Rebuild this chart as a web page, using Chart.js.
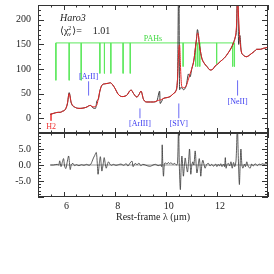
<!DOCTYPE html>
<html>
<head>
<meta charset="utf-8">
<script src="https://cdn.jsdelivr.net/npm/chart.js@4.4.0/dist/chart.umd.min.js"></script>
<style>
body { margin: 0; background: #fff; }
#wrap { position: relative; width: 274px; height: 274px; }
#topChart { position: absolute; left: 0; top: 0; }
#resChart { position: absolute; left: 0; top: 126px; }
</style>
</head>
<body>
<div id="wrap">
  <canvas id="topChart" width="274" height="140"></canvas>
  <canvas id="resChart" width="274" height="100"></canvas>
</div>
<script>
// spectrum (black) and fitted model (red), rest-frame wavelength in micron
const wave = [
  5.48, 5.55, 5.68, 5.8, 5.87, 5.95, 6.07, 6.15, 6.22, 6.3,
  6.46, 6.65, 6.8, 6.92, 6.98, 7.05, 7.15, 7.25, 7.31, 7.36,
  7.42, 7.5, 7.63, 7.75, 7.83, 7.92, 8.02, 8.12, 8.22, 8.32,
  8.41, 8.5, 8.58, 8.65, 8.74, 8.87, 8.95, 9.03, 9.13, 9.26,
  9.4, 9.52, 9.65, 9.76, 9.78, 9.9, 10.05, 10.17, 10.3, 10.4,
  10.46, 10.51, 10.54, 10.58, 10.62, 10.69, 10.8, 10.89, 10.95, 11.02,
  11.1, 11.15, 11.2, 11.24, 11.28, 11.31, 11.36, 11.41, 11.5, 11.61,
  11.74, 11.85, 11.93, 12.03, 12.13, 12.22, 12.32, 12.42, 12.52, 12.6,
  12.67, 12.72, 12.77, 12.81, 12.85, 12.9, 12.95, 13.04, 13.17, 13.27,
  13.37, 13.47, 13.56, 13.7, 13.82, 13.92, 14.0
];
const model = [
  8, 9, 11, 12, 12, 14, 18, 30, 50, 32,
  22, 20, 21, 23, 25, 26, 23, 24, 28, 40,
  55, 67, 70, 71, 72, 68, 60, 50, 45, 44,
  45, 48, 55, 57, 50, 43, 48, 55, 38, 33,
  33, 33, 35, 37, 37, 40, 42, 44, 50, 56,
  80, 140, 149, 100, 66, 62, 66, 80, 90, 101,
  118, 139, 160, 173, 168, 152, 135, 122, 112, 105,
  98, 100, 106, 110, 115, 119, 124, 131, 139, 147,
  156, 165, 190, 240, 205, 160, 137, 128, 125, 128,
  132, 136, 140, 140, 142, 143, 145
];
const flux = [
  8, 9, 11, 12, 12, 14, 18, 29, 52, 31,
  22, 20, 21, 23, 25, 26, 21, 20, 36, 38,
  55, 67, 70, 71, 72, 68, 60, 50, 45, 44,
  45, 48, 55, 57, 50, 43, 48, 55, 38, 33,
  33, 33, 35, 55, 30, 40, 42, 44, 50, 56,
  80, 300, 58, 62, 62, 58, 66, 90, 84, 101,
  118, 139, 160, 180, 168, 152, 135, 122, 112, 105,
  98, 100, 106, 110, 115, 119, 124, 131, 139, 147,
  156, 165, 185, 320, 150, 168, 137, 128, 125, 128,
  132, 136, 140, 140, 142, 143, 145
];

// residuals
const resWave = [
  5.48, 5.6, 5.75, 5.81, 5.85, 5.9, 5.95, 6.0, 6.04, 6.09,
  6.14, 6.2, 6.26, 6.31, 6.37, 6.43, 6.5, 6.6, 6.7, 6.8,
  6.9, 7.0, 7.07, 7.12, 7.17, 7.22, 7.28, 7.32, 7.35, 7.4,
  7.44, 7.47, 7.5, 7.55, 7.59, 7.63, 7.67, 7.72, 7.76, 7.82,
  7.87, 7.95, 8.05, 8.15, 8.25, 8.35, 8.45, 8.52, 8.6, 8.68,
  8.72, 8.8, 8.88, 8.95, 9.02, 9.1, 9.2, 9.3, 9.4, 9.5,
  9.6, 9.7, 9.8, 9.84, 9.86, 9.88, 9.91, 9.95, 10.0, 10.05,
  10.1, 10.15, 10.2, 10.28, 10.35, 10.42, 10.46, 10.5, 10.53, 10.57,
  10.6, 10.63, 10.66, 10.69, 10.73, 10.76, 10.8, 10.85, 10.89, 10.93,
  10.96, 10.98, 11.02, 11.06, 11.1, 11.15, 11.19, 11.22, 11.27, 11.31,
  11.34, 11.37, 11.41, 11.45, 11.5, 11.54, 11.6, 11.67, 11.73, 11.8,
  11.87, 11.95, 12.0, 12.05, 12.1, 12.15, 12.2, 12.26, 12.3, 12.33,
  12.36, 12.4, 12.45, 12.5, 12.55, 12.6, 12.65, 12.7, 12.75, 12.8,
  12.84, 12.88, 12.91, 12.94, 12.98, 13.02, 13.08, 13.12, 13.17, 13.22,
  13.3, 13.36, 13.42, 13.5, 13.58, 13.65, 13.72, 13.78, 13.85, 13.92,
  14.0
];
const resVal = [
  0, 0, 0.2, 0, 1.3, -0.5, 0.8, 2.0, -0.3, -1.1,
  0.8, 2.8, -1.4, 0.2, 0.5, -0.2, 0.1, -0.2, 0.1, -0.1,
  0.2, -0.1, 0.3, 1.2, 2.2, 3.0, 3.9, 0.5, -2.9, 0.5,
  2.6, 0.5, -1.9, 0.3, 2.3, 0.5, -1.0, 0.3, 1.0, 0.2,
  -0.1, 0.2, -0.1, 0.1, 0.3, -0.1, 0.4, -0.3, 0.6, 1.2,
  -0.5, 0.5, 0.1, 0.6, -0.2, 0.2, 0.0, -0.3, -0.4, 0.0,
  0.2, -0.2, 0.0, -0.5, 6.3, 1.0, -3.5, 0.5, 0.6, 0.3,
  0.8, 0.4, 0.7, 0.2, 0.5, 0.0, 0.5, 12, 0, -7.7,
  -1.0, 2.8, 0, -3.5, 0, 2.2, 0, -2.2, 1.0, 5.0,
  0, -2.9, 0, 1.0, 0, 4.4, 0, -2.5, 0, 2.0,
  0, -3.5, 0, 1.5, 0, -1.0, 0.2, 0.5, -0.3, 0.2,
  -0.4, 0.3, -0.5, 0.2, -0.3, 0.4, -0.5, 0.3, -0.5, 2.3,
  -1.0, 0.2, 0.5, -0.3, 1.0, -1.0, 0.8, -0.5, 1.5, 12,
  2.0, -6.1, 0, 5.0, 0, -1.0, 0.3, -0.5, 1.0, -0.3,
  -1.0, 0.3, -0.3, 0.4, -0.2, 0.3, 0.1, 0.4, 0.2, 0.5,
  0.3
];

// PAH features
const pahWave = [5.7, 6.22, 6.69, 7.42, 7.6, 7.85, 8.33, 8.61, 10.68, 11.17, 11.25, 11.33, 11.99, 12.62, 12.69];
const pahFoot = [77, 77, 77, 91, 91, 91, 91, 91, 105, 105, 105, 105, 111, 105, 105];
const pahLevel = 153;

// ionic lines
const ionNames = ['[ArII]', '[ArIII]', '[SIV]', '[NeII]'];
const ionWave = [6.98, 8.99, 10.51, 12.81];
const ionFrom = [46, 0, 0, 46];
const ionTo = [75, 20, 30, 77];
const ionLabelAt = [83, -12, -12, 34];

// H2 line
const h2Wave = 5.51;
const h2Range = [9, -5];

const fluxTicks = [0, 50, 100, 150, 200];
const resTicks = [-5, 0, 5];
const waveTicks = [6, 8, 10, 12];

const galaxy = 'Haro3';
const chi2 = '1.01';

Chart.defaults.font.family = '"Liberation Serif", "DejaVu Serif", serif';
Chart.defaults.color = '#222';

function pts(xs, ys) {
    return xs.map((v, i) => ({x: v, y: ys[i]}));
}

const pahPts = [{x: pahWave[0], y: pahLevel}, {x: pahWave[pahWave.length - 1], y: pahLevel}, {x: pahWave[0], y: null}];
pahWave.forEach((w, i) => {
    pahPts.push({x: w, y: pahLevel}, {x: w, y: pahFoot[i]}, {x: w, y: null});
});
const ionPts = [];
ionWave.forEach((w, i) => {
    ionPts.push({x: w, y: ionFrom[i]}, {x: w, y: ionTo[i]}, {x: w, y: null});
});

// axis boxes with a fixed size and no extra label padding
function fixWidth(w) {
    return s => { s.width = w; s.paddingTop = 0; s.paddingBottom = 0; };
}
function fixHeight(h) {
    return s => { s.height = h; s.paddingLeft = 0; s.paddingRight = 0; };
}

// inward ticks + frame like the original plot
const frameTicks = {
    id: 'frameTicks',
    afterDatasetsDraw(chart, args, o) {
        const ctx = chart.ctx, a = chart.chartArea;
        const xs = chart.scales.x, ys = chart.scales.y;
        ctx.save();
        ctx.strokeStyle = '#333';
        ctx.lineWidth = 1;
        ctx.beginPath();
        for (let v = o.xFrom; v <= xs.max + 1e-9; v += o.xStep) {
            const px = Math.round(xs.getPixelForValue(v)) + 0.5;
            const major = Math.abs(v / o.xMajor - Math.round(v / o.xMajor)) < 1e-6;
            const len = major ? 5 : 2.5;
            ctx.moveTo(px, a.top); ctx.lineTo(px, a.top + len);
            ctx.moveTo(px, a.bottom); ctx.lineTo(px, a.bottom - len);
        }
        for (let v = o.yFrom; v <= ys.max + 1e-9; v += o.yStep) {
            const py = Math.round(ys.getPixelForValue(v)) + 0.5;
            const major = Math.abs(v / o.yMajor - Math.round(v / o.yMajor)) < 1e-6;
            const len = major ? 6 : 3;
            ctx.moveTo(a.left, py); ctx.lineTo(a.left + len, py);
            ctx.moveTo(a.right, py); ctx.lineTo(a.right - len, py);
        }
        ctx.stroke();
        ctx.strokeRect(a.left + 0.5, a.top + 0.5, a.width - 1, a.height - 1);
        ctx.restore();
    }
};

const notes = {
    id: 'notes',
    afterDatasetsDraw(chart) {
        const ctx = chart.ctx, x = chart.scales.x, y = chart.scales.y;
        ctx.save();
        ctx.textBaseline = 'middle';
        ctx.textAlign = 'left';
        ctx.fillStyle = '#222';
        ctx.font = 'italic 10px "Liberation Serif"';
        ctx.fillText(galaxy, x.getPixelForValue(5.86), y.getPixelForValue(203));

        // <chi^2_nu> = value
        let cx = x.getPixelForValue(5.86);
        const cy = y.getPixelForValue(176);
        ctx.font = '10px "Liberation Serif", "DejaVu Serif"';
        ctx.fillText('⟨χ', cx, cy);
        cx += ctx.measureText('⟨χ').width;
        ctx.font = '6px "Liberation Serif"';
        ctx.fillText('2', cx, cy - 3);
        ctx.fillText('ν', cx, cy + 3);
        cx += 4;
        ctx.font = '10px "Liberation Serif", "DejaVu Serif"';
        ctx.fillText('⟩=', cx, cy);
        ctx.fillText(chi2, x.getPixelForValue(7.14), cy);

        ctx.textAlign = 'center';
        ctx.font = '8px "Liberation Serif"';
        ctx.fillStyle = '#3fd93f';
        ctx.fillText('PAHs', x.getPixelForValue(9.5), y.getPixelForValue(161));
        ctx.fillStyle = '#3b3bf0';
        ionNames.forEach((n, i) => {
            ctx.fillText(n, x.getPixelForValue(ionWave[i]), y.getPixelForValue(ionLabelAt[i]));
        });
        ctx.fillStyle = '#f03030';
        ctx.fillText('H2', x.getPixelForValue(h2Wave), y.getPixelForValue(-17));
        ctx.restore();
    }
};

const topChart = new Chart(document.getElementById('topChart'), {
    type: 'line',
    data: {
        datasets: [{
            label: 'model',
            data: pts(wave, model),
            borderColor: '#e32222',
            borderWidth: 1,
            pointRadius: 0,
            cubicInterpolationMode: 'monotone',
            order: 0
        }, {
            label: 'data',
            data: pts(wave, flux),
            borderColor: '#2a2a2a',
            borderWidth: 0.9,
            pointRadius: 0,
            cubicInterpolationMode: 'monotone',
            order: 1
        }, {
            label: 'PAH',
            data: pahPts,
            borderColor: '#5ee85e',
            borderWidth: 1,
            pointRadius: 0,
            spanGaps: false,
            order: 2
        }, {
            label: 'ions',
            data: ionPts,
            borderColor: '#6a6af5',
            borderWidth: 1,
            pointRadius: 0,
            spanGaps: false,
            order: 2
        }, {
            label: 'H2',
            data: [{x: h2Wave, y: h2Range[0]}, {x: h2Wave, y: h2Range[1]}],
            borderColor: '#f05050',
            borderWidth: 1,
            pointRadius: 0,
            order: 2
        }]
    },
    options: {
        responsive: false,
        animation: false,
        layout: {padding: {top: 5, right: 6, bottom: 7, left: 0}},
        plugins: {
            legend: {display: false},
            tooltip: {enabled: false},
            frameTicks: {xFrom: 5, xStep: 0.5, xMajor: 2, yFrom: -30, yStep: 10, yMajor: 50}
        },
        scales: {
            x: {type: 'linear', min: 5, max: 14, display: false},
            y: {
                min: -30,
                max: 230,
                afterBuildTicks: s => { s.ticks = fluxTicks.map(v => ({value: v})); },
                afterFit: fixWidth(38),
                grid: {display: false, drawTicks: false},
                border: {display: false},
                ticks: {padding: 7, font: {size: 10}, color: '#222'}
            }
        }
    },
    plugins: [frameTicks, notes]
});

const resChart = new Chart(document.getElementById('resChart'), {
    type: 'line',
    data: {
        datasets: [{
            label: 'residual',
            data: pts(resWave, resVal),
            borderColor: '#333',
            borderWidth: 0.8,
            pointRadius: 0,
            tension: 0.3
        }, {
            label: 'zero',
            data: [{x: resWave[0], y: 0}, {x: resWave[resWave.length - 1], y: 0}],
            borderColor: '#999',
            borderWidth: 1,
            pointRadius: 0
        }]
    },
    options: {
        responsive: false,
        animation: false,
        layout: {padding: {top: 7, right: 6, bottom: 0, left: 0}},
        plugins: {
            legend: {display: false},
            tooltip: {enabled: false},
            frameTicks: {xFrom: 5, xStep: 0.5, xMajor: 2, yFrom: -10, yStep: 1, yMajor: 5}
        },
        scales: {
            x: {
                type: 'linear',
                min: 5,
                max: 14,
                afterBuildTicks: s => { s.ticks = waveTicks.map(v => ({value: v})); },
                afterFit: fixHeight(29),
                grid: {display: false, drawTicks: false},
                border: {display: false},
                ticks: {padding: 3, labelOffset: 3, maxRotation: 0, autoSkip: false, font: {size: 10}, color: '#222'},
                title: {display: true, text: 'Rest-frame λ (μm)', font: {size: 10}, color: '#222', padding: {top: 0, bottom: 3}}
            },
            y: {
                min: -10,
                max: 10,
                afterBuildTicks: s => { s.ticks = resTicks.map(v => ({value: v})); },
                afterFit: fixWidth(38),
                grid: {display: false, drawTicks: false},
                border: {display: false},
                ticks: {padding: 7, font: {size: 10}, color: '#222', callback: v => v.toFixed(1)}
            }
        }
    },
    plugins: [frameTicks]
});
</script>
</body>
</html>
